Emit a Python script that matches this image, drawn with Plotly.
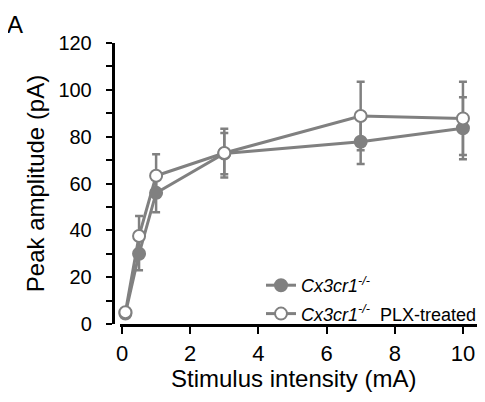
import plotly.graph_objects as go

# Data
stim = [0.1, 0.5, 1, 3, 7, 10]
ko_mean = [4.5, 30, 56, 72.8, 77.8, 83.6]
ko_err = [1.5, 7, 8.3, 8.8, 9.5, 13.2]
plx_mean = [5, 37.6, 63.3, 73, 88.8, 87.8]
plx_err = [1.5, 8.5, 9.2, 10.4, 14.6, 15.6]

x_ticks = [0, 2, 4, 6, 8, 10]
y_ticks = [0, 20, 40, 60, 80, 100, 120]

GRAY = "#808080"
FONT = "Liberation Sans, Arial, sans-serif"

fig = go.Figure()
fig.add_trace(go.Scatter(
    x=stim, y=ko_mean, mode="lines+markers",
    name="<i>Cx3cr1</i><sup><i>-/-</i></sup>",
    legendgroup="a",
    line=dict(color=GRAY, width=3),
    marker=dict(symbol="circle", size=12, color=GRAY, line=dict(color=GRAY, width=2)),
    error_y=dict(type="data", array=ko_err, visible=True, color=GRAY, thickness=2.5, width=4),
    cliponaxis=False,
))
fig.add_trace(go.Scatter(
    x=stim, y=plx_mean, mode="lines+markers",
    name="<i>Cx3cr1</i><sup><i>-/-</i></sup>  PLX-treated",
    legendgroup="b",
    line=dict(color=GRAY, width=3),
    marker=dict(symbol="circle", size=12, color="white", line=dict(color=GRAY, width=2)),
    error_y=dict(type="data", array=plx_err, visible=True, color=GRAY, thickness=2.5, width=4),
    cliponaxis=False,
))

# page has an 8px body margin: work in page pixels, convert to figure pixels
OFF = 8
W, H = 485 - OFF, 402 - OFF
plot_left, plot_right, plot_top, plot_bottom = 100, 480, 43, 324
L = plot_left - OFF
T = plot_top - OFF
R = W - (plot_right - OFF)
B = H - (plot_bottom - OFF)
pw = W - L - R
ph = H - T - B

def px_x(p):
    return (p - OFF - L) / pw

def px_y(p):
    return (H - B - (p - OFF)) / ph

fig.update_layout(
    template=None,
    width=W, height=H,
    margin=dict(l=L, r=R, t=T, b=B, pad=0, autoexpand=False),
    paper_bgcolor="white", plot_bgcolor="white",
    font=dict(family=FONT, color="black"),
    showlegend=True,
    legend=dict(
        x=px_x(261), xanchor="left", y=px_y(267), yanchor="top",
        font=dict(size=18, family=FONT, color="black"),
        bgcolor="rgba(0,0,0,0)", tracegroupgap=2,
        itemwidth=30,
    ),
    xaxis=dict(
        automargin=False,
        domain=[px_x(120), 1],
        range=[-0.059, 10.5],
        tickmode="array", tickvals=x_ticks, ticktext=[str(v) for v in x_ticks],
        showline=True, linecolor="black", linewidth=2.5,
        ticks="outside", ticklen=7, tickwidth=2, tickcolor="black",
        showgrid=False, zeroline=False,
        tickfont=dict(size=22, family=FONT, color="black"),
        ticklabelstandoff=1,
    ),
    yaxis=dict(
        automargin=False,
        anchor="free", position=px_x(112.5),
        range=[0, 120],
        tickmode="array", tickvals=y_ticks, ticktext=[str(v) for v in y_ticks],
        showline=True, linecolor="black", linewidth=2.5,
        ticks="outside", ticklen=6, tickwidth=2, tickcolor="black",
        minor=dict(dtick=10, ticks="outside", ticklen=6, tickwidth=2, tickcolor="black", showgrid=False),
        showgrid=False, zeroline=False,
        tickfont=dict(size=20, family=FONT, color="black"),
        ticklabelstandoff=10,
        title=dict(text="Peak amplitude (pA)", font=dict(size=24, family=FONT, color="black"), standoff=5),
    ),
    annotations=[
        dict(
            text="A", xref="paper", yref="paper", x=px_x(5), y=px_y(9),
            xanchor="left", yanchor="top", showarrow=False,
            font=dict(size=24, family=FONT, color="black"),
        ),
        dict(
            text="Stimulus intensity (mA)", xref="paper", yref="paper",
            x=px_x(293), y=px_y(378), xanchor="center", yanchor="middle", showarrow=False,
            font=dict(size=24, family=FONT, color="black"),
        ),
    ],
)

fig.write_html("out.html")
